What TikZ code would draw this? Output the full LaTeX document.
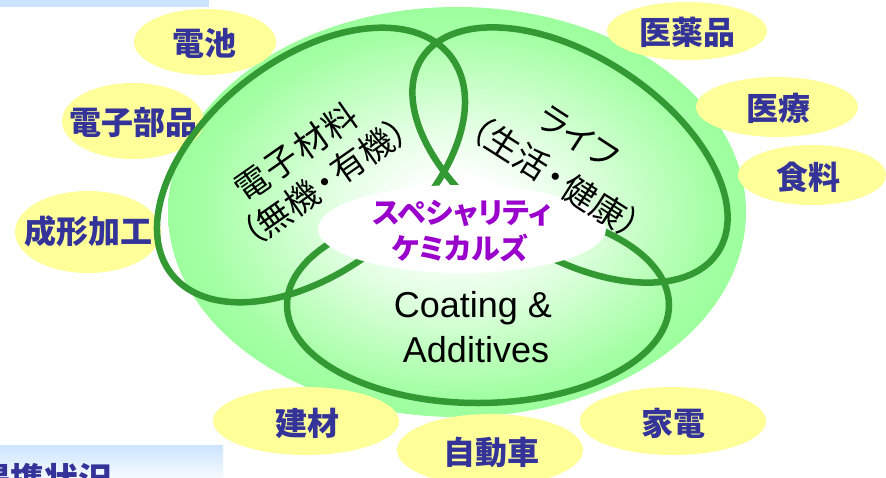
\documentclass[tikz,border=0pt]{standalone}
\usepackage{fontspec}
\setmainfont{Liberation Sans}
\newfontfamily\jp{Noto Sans CJK JP}
\newfontfamily\jpp{Noto Sans CJK JP}[RawFeature=+palt]
\definecolor{yel}{RGB}{255,255,153}
\definecolor{gout}{RGB}{128,255,128}
\definecolor{gmid}{RGB}{165,255,165}
\definecolor{glight}{RGB}{225,255,225}
\definecolor{dgreen}{RGB}{51,153,51}
\definecolor{navy}{RGB}{51,51,153}
\definecolor{purp}{RGB}{153,0,204}
\definecolor{barblue}{RGB}{204,228,255}
\definecolor{barlight}{RGB}{245,250,255}
\pgfdeclareradialshading{greenrad}{\pgfpoint{0bp}{0bp}}{color(0bp)=(white); color(4bp)=(white); color(11bp)=(glight); color(22bp)=(gmid); color(35bp)=(gout); color(50bp)=(gout)}
\tikzset{
  yellowlbl/.style={inner sep=0pt, text=navy, font=\jp\bfseries\fontsize{32}{32}\selectfont},
  yellowbg/.style={fill=yel},
  ring/.style={draw=dgreen, line width=6.5pt},
  rotlbl/.style={inner sep=0pt, text=black, font=\jpp\fontsize{34}{34}\selectfont},
  purlbl/.style={inner sep=0pt, text=purp, font=\jpp\bfseries\fontsize{29}{29}\selectfont},
  coatlbl/.style={inner sep=0pt, anchor=base, text=black, font=\fontsize{36}{40}\selectfont},
}
\begin{document}
\begin{tikzpicture}[x=1pt,y=-1pt]
\useasboundingbox (0,0) rectangle (886,477);
\fill[white] (0,0) rectangle (886,477);
% bars
\fill[barblue] (0,0) rectangle (209,7);
\shade[top color=barblue, bottom color=barlight] (0,445) rectangle (223,477);
\node[anchor=base west, inner sep=0pt, text=navy, font=\jp\bfseries\fontsize{34}{34}\selectfont] (bartext) at (-24,492) {提携状況};
% big gradient fill
\shade[shading=greenrad] (457,212) ellipse [x radius=289pt, y radius=205pt];
% yellow ellipses
\fill[yellowbg] (205,42) ellipse [x radius=71pt, y radius=33pt];
\fill[yellowbg] (133,121) ellipse [x radius=71pt, y radius=38pt];
\fill[yellowbg] (88,232) ellipse [x radius=73pt, y radius=41pt];
\fill[yellowbg] (687,31) ellipse [x radius=80pt, y radius=29pt];
\fill[yellowbg] (777,107) ellipse [x radius=81pt, y radius=30pt];
\fill[yellowbg] (812,175) ellipse [x radius=74pt, y radius=30pt];
\fill[yellowbg] (306,421) ellipse [x radius=93pt, y radius=34pt];
\fill[yellowbg] (490,450) ellipse [x radius=93pt, y radius=36pt];
\fill[yellowbg] (673,421) ellipse [x radius=93pt, y radius=34pt];
\node[yellowlbl] (denchi) at (204,43) {電池};
\node[yellowlbl] (denshibuhin) at (133,123) {電子部品};
\node[yellowlbl] (seikei) at (88,231) {成形加工};
\node[yellowlbl] (iyaku) at (687,32) {医薬品};
\node[yellowlbl] (iryo) at (778,108) {医療};
\node[yellowlbl] (shokuryo) at (808,177) {食料};
\node[yellowlbl] (kenzai) at (307,423) {建材};
\node[yellowlbl] (jidosha) at (491,452) {自動車};
\node[yellowlbl] (kaden) at (673,423) {家電};
% three rings
\begin{scope}[shift={(311,165)}, rotate=38]
  \draw[ring] (0,0) ellipse [x radius=177pt, y radius=106pt];
\end{scope}
\begin{scope}[shift={(570,155)}, rotate=-33.3]
  \draw[ring] (0,0) ellipse [x radius=177pt, y radius=99pt];
\end{scope}
\draw[ring] (478,305) ellipse [x radius=191pt, y radius=98pt];
% centre white ellipse
\fill[white] (462,229) ellipse [x radius=144pt, y radius=44pt];
% texts
\node[rotlbl, rotate=35] (mat1) at (296,152) {電\hspace{2pt}子\hspace{2pt}材\hspace{2pt}料};
\node[rotlbl, rotate=35] (mat2) at (325,182) {（無機\hspace{3pt}・\hspace{3pt}有機）};
\node[rotlbl, rotate=-33] (life1) at (578,137) {ライフ};
\node[rotlbl, rotate=-32.5] (life2) at (556,177) {（生活\hspace{3pt}・\hspace{3pt}健康）};
\node[purlbl] (sc1) at (462,213) {スペシャリティ};
\node[purlbl] (sc2) at (460,248) {ケミカルズ};
\node[coatlbl] (coat1) at (473,317) {Coating \&};
\node[coatlbl] (coat2) at (476,362) {Additives};
\end{tikzpicture}
\end{document}
